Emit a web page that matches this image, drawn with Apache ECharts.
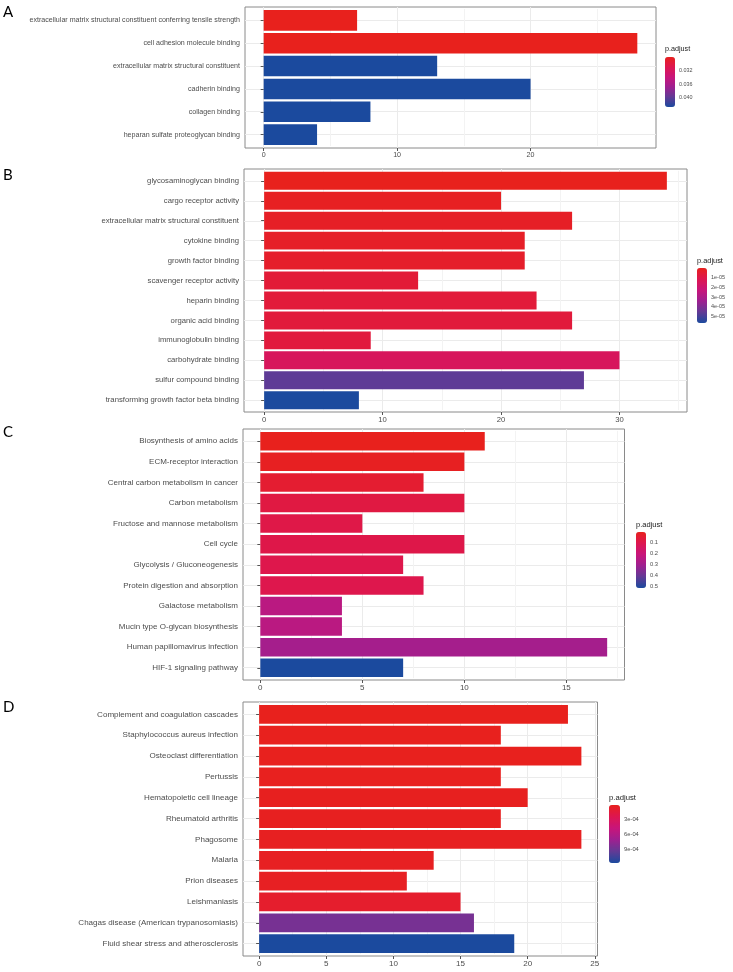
<!DOCTYPE html>
<html><head><meta charset="utf-8">
<script src="https://cdn.jsdelivr.net/npm/echarts@6/dist/echarts.min.js"></script>
<style>html,body{margin:0;padding:0;background:#fff}#c{width:733px;height:972px}</style>
</head><body><div id="c"></div>
<script>
// ---------- DATA ----------
const catsA = ['extracellular matrix structural constituent conferring tensile strength','cell adhesion molecule binding','extracellular matrix structural constituent','cadherin binding','collagen binding','heparan sulfate proteoglycan binding'];
const countA = [7, 28, 13, 20, 8, 4];
const padjA = [0.0278, 0.0278, 0.0428, 0.0428, 0.0428, 0.0428];
const majorA = [0, 10, 20];
const minorA = [5, 15, 25];
const legendTicksA = [0.032, 0.036, 0.040];

const catsB = ['glycosaminoglycan binding','cargo receptor activity','extracellular matrix structural constituent','cytokine binding','growth factor binding','scavenger receptor activity','heparin binding','organic acid binding','immunoglobulin binding','carbohydrate binding','sulfur compound binding','transforming growth factor beta binding'];
const countB = [34, 20, 26, 22, 22, 13, 23, 26, 9, 30, 27, 8];
const padjB = [1.0e-7, 1.2e-6, 2.0e-6, 2.6e-6, 3.2e-6, 5.8e-6, 6.5e-6, 6.8e-6, 7.2e-6, 1.45e-5, 4.6e-5, 5.66e-5];
const majorB = [0, 10, 20, 30];
const minorB = [5, 15, 25, 35];
const legendTicksB = [1e-5, 2e-5, 3e-5, 4e-5, 5e-5];

const catsC = ['Biosynthesis of amino acids','ECM-receptor interaction','Central carbon metabolism in cancer','Carbon metabolism','Fructose and mannose metabolism','Cell cycle','Glycolysis / Gluconeogenesis','Protein digestion and absorption','Galactose metabolism','Mucin type O-glycan biosynthesis','Human papillomavirus infection','HIF-1 signaling pathway'];
const countC = [11, 10, 8, 10, 5, 10, 7, 8, 4, 4, 17, 7];
const padjC = [0.001, 0.012, 0.042, 0.075, 0.088, 0.09, 0.095, 0.098, 0.24, 0.24, 0.29, 0.512];
const majorC = [0, 5, 10, 15];
const minorC = [2.5, 7.5, 12.5, 17.5];
const legendTicksC = [0.1, 0.2, 0.3, 0.4, 0.5];

const catsD = ['Complement and coagulation cascades','Staphylococcus aureus infection','Osteoclast differentiation','Pertussis','Hematopoietic cell lineage','Rheumatoid arthritis','Phagosome','Malaria','Prion diseases','Leishmaniasis','Chagas disease (American trypanosomiasis)','Fluid shear stress and atherosclerosis'];
const countD = [23, 18, 24, 18, 20, 18, 24, 13, 11, 15, 16, 19];
const padjD = [1e-6, 4e-6, 6e-6, 8e-6, 1.2e-5, 1.5e-5, 2e-5, 2.5e-5, 3e-5, 7.5e-5, 8.6e-4, 1.18e-3];
const majorD = [0, 5, 10, 15, 20, 25];
const minorD = [2.5, 7.5, 12.5, 17.5, 22.5];
const legendTicksD = [3e-4, 6e-4, 9e-4];

// ---------- LAYOUT / STYLE ----------
const gradient = ['#e8211d','#dd1650','#c8157a','#9e2090','#623a95','#1b4a9e'];
const expFmt = v => v.toExponential(0).replace(/e([+-])(\d)$/, 'e$10$2');
const panels = [
  {letter:'A', cats:catsA, counts:countA, p:padjA, major:majorA, minor:minorA, lt:legendTicksA,
   box:{l:245, r:656, t:7, b:148}, font:7.1, bar:{l:665, t:57, w:10, h:50}, tfont:7.2, lfont:5.4, letterTop:5,
   fmt: v => v.toFixed(3)},
  {letter:'B', cats:catsB, counts:countB, p:padjB, major:majorB, minor:minorB, lt:legendTicksB,
   box:{l:244, r:687, t:169, b:412}, font:7.7, bar:{l:697, t:268, w:10, h:55}, tfont:7.4, lfont:5.5, letterTop:168,
   fmt: expFmt},
  {letter:'C', cats:catsC, counts:countC, p:padjC, major:majorC, minor:minorC, lt:legendTicksC,
   box:{l:243, r:624.5, t:429, b:680}, font:8, bar:{l:636, t:532, w:10, h:56}, tfont:7.5, lfont:5.8, letterTop:425,
   fmt: v => String(v)},
  {letter:'D', cats:catsD, counts:countD, p:padjD, major:majorD, minor:minorD, lt:legendTicksD,
   box:{l:243, r:597.5, t:702, b:956}, font:8.05, bar:{l:609, t:805, w:11, h:58}, tfont:7.7, lfont:5.8, letterTop:700,
   fmt: expFmt}
];

const labelColor = '#4d4d4d';
const FF = '"Liberation Sans", Arial, sans-serif';
const option = {
  backgroundColor:'#fff', animation:false,
  textStyle:{fontFamily:FF},
  title:[], grid:[], xAxis:[], yAxis:[], series:[], visualMap:[]
};

panels.forEach((P, i) => {
  const n = P.cats.length;
  const W = P.box.r - P.box.l, H = P.box.b - P.box.t;
  const maxC = Math.max(...P.counts);
  const xmin = -0.05 * maxC, xmax = 1.05 * maxC;
  const inset = 0.1 * H / (n + 1.2);
  const pmin = Math.min(...P.p), pmax = Math.max(...P.p);
  const gO = 3*i, gI = 3*i+1, gL = 3*i+2;

  option.grid.push({left:P.box.l, top:P.box.t, width:W, height:H, show:true, borderColor:'#8a8a8a', borderWidth:1, backgroundColor:'#fff', z:0});
  option.grid.push({left:P.box.l, top:P.box.t+inset, width:W, height:H-2*inset});
  option.grid.push({left:P.bar.l, top:P.bar.t, width:P.bar.w, height:P.bar.h});

  // outer x: major ticks, labels and major gridlines
  option.xAxis.push({type:'value', gridIndex:gO, min:xmin, max:xmax,
    axisLine:{show:false},
    axisTick:{show:true, length:3, customValues:P.major, lineStyle:{color:'#555'}},
    axisLabel:{customValues:P.major, fontSize:P.font, color:labelColor, margin:4, fontFamily:FF},
    splitLine:{show:true, lineStyle:{color:'#ebebeb', width:1}}});
  // inner x: minor gridlines
  option.xAxis.push({type:'value', gridIndex:gI, min:xmin, max:xmax,
    axisLine:{show:false},
    axisTick:{show:false, customValues:P.minor},
    axisLabel:{show:false, customValues:P.minor},
    splitLine:{show:true, lineStyle:{color:'#f3f3f3', width:1}}});
  option.xAxis.push({type:'value', gridIndex:gL, show:false});

  const idx = P.cats.map((c, j) => j + 1);
  option.yAxis.push({type:'value', gridIndex:gO, inverse:true, min:0.4, max:n+0.6,
    axisLine:{show:false},
    axisTick:{show:false, customValues:idx},
    axisLabel:{show:false, customValues:idx},
    splitLine:{show:true, lineStyle:{color:'#ebebeb', width:1}}});
  option.yAxis.push({type:'category', gridIndex:gI, inverse:true, data:P.cats,
    axisLine:{show:false},
    axisTick:{show:true, alignWithLabel:true, length:3, lineStyle:{color:'#555'}},
    axisLabel:{fontSize:P.font, color:labelColor, margin:5, fontFamily:FF},
    splitLine:{show:false}});
  option.yAxis.push({type:'value', gridIndex:gL, position:'right', inverse:true, min:pmin, max:pmax,
    axisLine:{show:false},
    axisTick:{show:true, inside:true, length:2, customValues:P.lt, lineStyle:{color:'#fff', width:1}},
    axisLabel:{customValues:P.lt, fontSize:P.lfont, color:labelColor, margin:4, formatter:P.fmt, fontFamily:FF},
    splitLine:{show:false}, z:10});

  option.series.push({type:'bar', xAxisIndex:gI, yAxisIndex:gI, barCategoryGap:'10%',
    dimensions:['count','term','padj'], encode:{x:0, y:1},
    data:P.cats.map((c, j) => [P.counts[j], c, P.p[j]]), z:3});

  option.visualMap.push({type:'continuous', seriesIndex:i, dimension:2, min:pmin, max:pmax,
    inverse:true, calculable:false, hoverLink:false, orient:'vertical',
    itemWidth:P.bar.w, itemHeight:P.bar.h, left:P.bar.l, top:P.bar.t, padding:0,
    inRange:{color:gradient}, text:null, textStyle:{fontSize:0}});

  option.title.push({text:P.letter, left:3, top:P.letterTop, padding:0,
    textStyle:{fontSize:15, fontWeight:'normal', color:'#000', fontFamily:'Lato, sans-serif'}});
  option.title.push({text:'p.adjust', left:P.bar.l, top:P.bar.t - 11, padding:0,
    textStyle:{fontSize:P.tfont, fontWeight:'normal', color:'#1a1a1a', fontFamily:FF}});
});

const chart = echarts.init(document.getElementById('c'), null, {renderer:'canvas'});
chart.setOption(option);
</script>
</body></html>
